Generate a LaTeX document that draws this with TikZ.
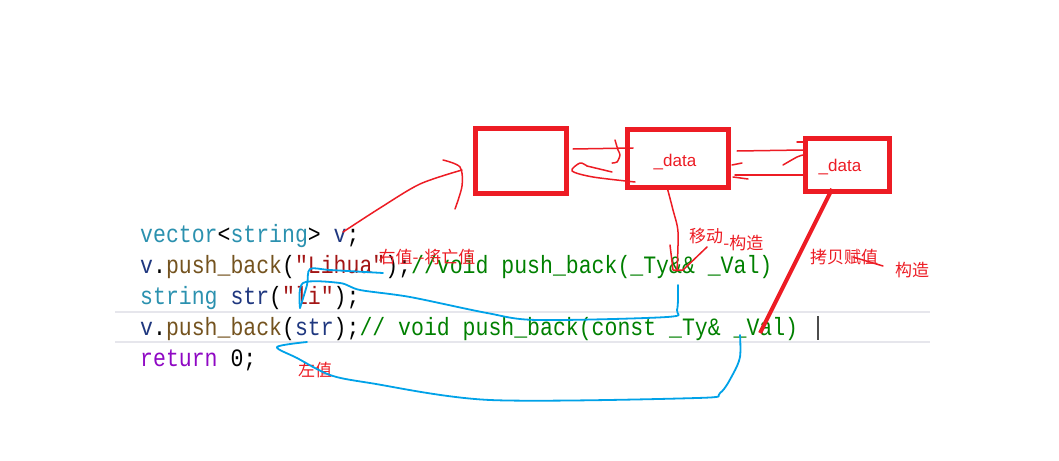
\documentclass[tikz,border=0pt]{standalone}
\usepackage{fontspec}
\setmainfont{Liberation Sans}
\newfontfamily\codefont[FakeStretch=0.86]{Liberation Mono}
\newfontfamily\cjk{Noto Sans CJK SC}
\usetikzlibrary{positioning}
\definecolor{penRed}{RGB}{237,28,36}
\definecolor{penBlue}{RGB}{0,162,232}
\definecolor{kwTeal}{RGB}{43,145,175}
\definecolor{varNavy}{RGB}{31,55,127}
\definecolor{fnBrown}{RGB}{116,83,31}
\definecolor{strRed}{RGB}{163,21,21}
\definecolor{cmtGreen}{RGB}{0,128,0}
\definecolor{retPurple}{RGB}{143,8,196}
\definecolor{lineGrey}{RGB}{230,230,236}
\newcommand{\kwd}[1]{\textcolor{kwTeal}{#1}}
\newcommand{\var}[1]{\textcolor{varNavy}{#1}}
\newcommand{\fnc}[1]{\textcolor{fnBrown}{#1}}
\newcommand{\lit}[1]{\textcolor{strRed}{#1}}
\newcommand{\cmt}[1]{\textcolor{cmtGreen}{#1}}
\tikzset{
  codeline/.style={anchor=base west, inner sep=0pt, font=\codefont\fontsize{25}{30}\selectfont},
  redbox/.style={draw=penRed, line width=5pt, inner sep=0pt},
  datalbl/.style={text=penRed, font=\fontsize{17}{20}\selectfont, inner sep=0pt},
  note/.style={text=penRed, font=\cjk\fontsize{17}{19}\selectfont, inner sep=0pt},
  redpen/.style={penRed, line width=1.5pt, line cap=round, line join=round},
  bluepen/.style={penBlue, line width=1.8pt, line cap=round, line join=round}
}
\begin{document}
\begin{tikzpicture}[x=1pt, y=-1pt]
  \useasboundingbox (0,0) rectangle (1059,460);
  \fill[white] (0,0) rectangle (1059,460);
  % current line highlight
  \draw[lineGrey, line width=2pt] (115,312) -- (930,312);
  \draw[lineGrey, line width=2pt] (115,342) -- (930,342);
  \draw[black!70, line width=1.5pt] (818,316) -- (818,340);
  % code
  \node[codeline] (l1) at (140,242) {\kwd{vector}<\kwd{string}> \var{v};};
  \node[codeline] (l2) at (140,273) {\var{v}.\fnc{push\_back}(\lit{"Lihua"});\cmt{//void push\_back(\_Ty\&\& \_Val)}};
  \node[codeline] (l3) at (140,304) {\kwd{string} \var{str}(\lit{"li"});};
  \node[codeline] (l4) at (140,335) {\var{v}.\fnc{push\_back}(\var{str});\cmt{// void push\_back(const \_Ty\& \_Val)}};
  \node[codeline] (l5) at (140,366) {\textcolor{retPurple}{return} 0;};
  % boxes
  \node[redbox, minimum width=91pt, minimum height=65pt] (buf) at (521,161) {};
  \node[redbox, minimum width=101pt, minimum height=58pt] (node1) at (678,158) {};
  \node[redbox, minimum width=84pt, minimum height=53pt] (node2) at (847,165) {};
  \node[datalbl] (d1) at (675,162) {\_data};
  \node[datalbl] (d2) at (840,167) {\_data};
  % notes
  \node[note] (rv) at (427,257) {右值{-}{-}将亡值};
  \node[note] (mv) at (706,236) {移动};
  \node[note, right=0pt of mv.east, yshift=-7pt] (mc) {-构造};
  \node[note] (cp) at (844,257) {拷贝赋值};
  \node[note] (cc) at (912,270) {构造};
  \node[note] (lv) at (315,370) {左值};
  % red strokes
  \draw[redpen] plot[smooth] coordinates {(343,232) (380,208) (420,184) (462,170)};
  \draw[redpen] plot[smooth] coordinates {(443,160) (460,167) (462,186) (455,209)};
  \draw[redpen] (573,149) -- (633,148);
  \draw[redpen] plot[smooth] coordinates {(615,140) (618,150) (620,155) (617,162) (612,163)};
  \draw[redpen] plot[smooth] coordinates {(635,182) (593,177) (572,171) (580,163) (587,166)};
  \draw[redpen] (587,166) -- (612,172);
  \draw[redpen] (737,151) -- (803,150);
  \draw[redpen] plot[smooth] coordinates {(783,165) (797,157) (803,155)};
  \draw[redpen] (797,142) -- (803,142);
  \draw[redpen] (803,175) -- (735,175);
  \draw[redpen] (732,165) -- (742,163);
  \draw[redpen] (733,177) -- (748,179);
  \draw[redpen] plot[smooth] coordinates {(667,187) (673,210) (678,232) (677,271)};
  \draw[redpen] (670,245) -- (673,270) -- (683,270) -- (707,247);
  \draw[penRed, line width=4pt] (832,189) -- (760,333);
  \draw[redpen] (853,257) -- (883,266);
  % blue strokes
  \draw[bluepen] plot[smooth] coordinates {(383,273) (330,270) (310,269) (307,285) (300,308)};
  \draw[bluepen] plot[smooth] coordinates {(300,308) (303,283) (340,283) (360,290) (410,297) (487,313) (537,320) (667,317) (677,310) (678,285)};
  \draw[bluepen] plot[smooth] coordinates {(740,335) (740,357) (733,374) (720,393) (697,398) (490,400) (370,383) (330,375) (297,358) (277,347) (307,342)};
\end{tikzpicture}
\end{document}
